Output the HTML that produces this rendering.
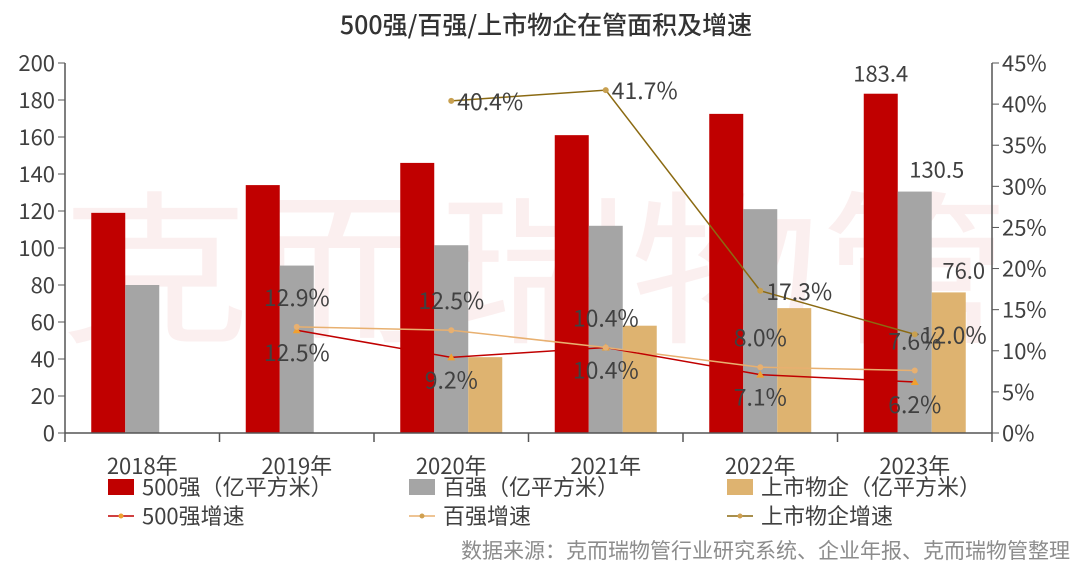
<!DOCTYPE html>
<html><head><meta charset="utf-8"><style>
body{margin:0;background:#fff;}
svg{display:block;font-family:"Noto Sans CJK SC","Liberation Sans",sans-serif;}
</style></head><body>
<svg id="c" width="1080" height="570">
<text x="546" y="34" text-anchor="middle" font-size="25" font-weight="500" fill="#333">500强/百强/上市物企在管面积及增速</text>
<g opacity="0.06" fill="#c00000" font-size="165">
<text x="60" y="330" textLength="950" lengthAdjust="spacingAndGlyphs">克而瑞物管</text>
</g>
<g id="g"></g>
<text x="1070" y="558" text-anchor="end" font-size="21" fill="#8c8c8c">数据来源：克而瑞物管行业研究系统、企业年报、克而瑞物管整理</text>
</svg>
<script>
const categories=["2018年","2019年","2020年","2021年","2022年","2023年"];
const top500=[119,134,146,161,172.5,183.4];
const top100=[80,90.5,101.5,112,121,130.5];
const listed=[null,null,41,58,67.5,76.0];
const top500Growth=[null,12.5,9.2,10.4,7.1,6.2];
const top100Growth=[null,12.9,12.5,10.4,8.0,7.6];
const listedGrowth=[null,null,40.4,41.7,17.3,12.0];
const leftTicks=[0,20,40,60,80,100,120,140,160,180,200];
const rightTicks=[0,5,10,15,20,25,30,35,40,45];
const barLabels=["183.4","130.5","76.0"];

const NS="http://www.w3.org/2000/svg";
const g=document.getElementById('g');
const X0=65,X1=992,Y0=433,Y1=63;
const band=(X1-X0)/categories.length;
const yL=v=>Y0-(v/200)*(Y0-Y1);
const yR=v=>Y0-(v/45)*(Y0-Y1);
const cx=i=>X0+band*(i+0.5);
function el(t,a,p){const e=document.createElementNS(NS,t);for(const k in a)e.setAttribute(k,a[k]);(p||g).appendChild(e);return e;}
function txt(x,y,s,a,p){const e=el('text',Object.assign({x:x,y:y,'font-size':21,fill:'#404040'},a||{}),p);e.textContent=s;return e;}

const bw=34;
const series=[[top500,'#c00000','bar-500'],[top100,'#a5a5a5','bar-top100'],[listed,'#deb370','bar-listed']];
series.forEach((s,k)=>{s[0].forEach((v,i)=>{if(v==null)return;
 const r=el('rect',{x:cx(i)-51+k*bw,y:yL(v),width:bw,height:Y0-yL(v),fill:s[1]});
 
 });});
const li=5;
[top500,top100,listed].forEach((arr,k)=>{
 const t=txt(cx(li)-51+k*bw+bw/2+[0,22,15][k],yL(arr[li])-[12,14,14][k],barLabels[k],{'text-anchor':'middle','font-size':22});
 
 });

el('line',{x1:X0,y1:Y0,x2:X1,y2:Y0,stroke:'#555','stroke-width':1.5});
el('line',{x1:X0,y1:Y1,x2:X0,y2:Y0,stroke:'#555','stroke-width':1.5});
el('line',{x1:X1,y1:Y1,x2:X1,y2:Y0,stroke:'#555','stroke-width':1.5});
for(let i=0;i<=categories.length;i++)el('line',{x1:X0+band*i,y1:Y0,x2:X0+band*i,y2:Y0+9,stroke:'#555','stroke-width':1.5});
leftTicks.forEach(v=>{el('line',{x1:X0-7,y1:yL(v),x2:X0,y2:yL(v),stroke:'#555'});
 const t=txt(X0-10,yL(v)+8,String(v),{'text-anchor':'end','font-size':22});
 
 });
rightTicks.forEach(v=>{el('line',{x1:X1,y1:yR(v),x2:X1+7,y2:yR(v),stroke:'#555'});
 const t=txt(X1+10,yR(v)+8,v+'%',{'font-size':22});
 
 });
categories.forEach((c,i)=>{const t=txt(cx(i),474,c,{'text-anchor':'middle','font-size':22});
 
 });

function line(arr,color,name,marker,labelFn){
 const pts=[];arr.forEach((v,i)=>{if(v!=null)pts.push([cx(i),yR(v),v,i]);});
 const p=el('polyline',{points:pts.map(q=>q[0]+','+q[1]).join(' '),fill:'none',stroke:color,'stroke-width':1.5});
 
 
 pts.forEach(q=>{
  if(marker==='tri')el('path',{d:`M${q[0]},${q[1]-4}l4,7h-8z`,fill:'#f0a030'});
  else el('circle',{cx:q[0],cy:q[1],r:3,fill:marker});
  const o=labelFn(q);
  const t=txt(q[0]+o[0],q[1]+o[1],q[2].toFixed(1)+'%',{'text-anchor':o[2]||'middle','font-size':23});
  
  });
}
line(top500Growth,'#c00000','line-500-growth','tri',q=>[0,31]);
line(top100Growth,'#e8b070','line-top100-growth','#e8b070',q=>[0,-21]);
line(listedGrowth,'#8b6a12','line-listed-growth','#c8a050',q=>[6,9,'start']);

const L=[[108,487,'rect','#c00000','500强（亿平方米）'],[409,487,'rect','#a5a5a5','百强（亿平方米）'],[727,487,'rect','#deb370','上市物企（亿平方米）'],
[108,516,'line','#c00000','500强增速'],[409,516,'line','#e8b070','百强增速'],[727,516,'line','#8b6a12','上市物企增速']];
L.forEach(l=>{
 if(l[2]==='rect')el('rect',{x:l[0],y:l[1]-8,width:26,height:16,fill:l[3]});
 else{el('line',{x1:l[0],y1:l[1],x2:l[0]+26,y2:l[1],stroke:l[3],'stroke-width':1.5});el('circle',{cx:l[0]+13,cy:l[1],r:2.5,fill:l[3]==='#c00000'?'#f0a030':'#d0a050'});}
 const t=txt(l[0]+34,l[1]+8,l[4],{'font-size':22});
 
 });
</script>
</body></html>
